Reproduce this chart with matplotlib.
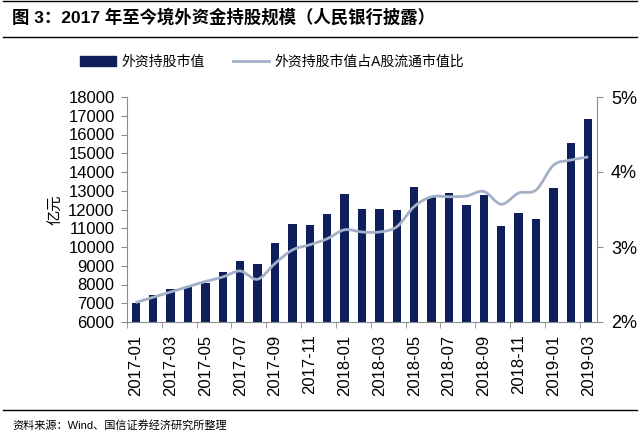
import numpy as np
import matplotlib
matplotlib.use("Agg")
import matplotlib.pyplot as plt
from matplotlib.path import Path
from matplotlib.patches import PathPatch, Patch
from matplotlib.lines import Line2D

plt.rcParams['font.family'] = ['Liberation Sans', 'Noto Sans CJK SC']

months = ['2017-01', '2017-02', '2017-03', '2017-04', '2017-05', '2017-06', '2017-07',
          '2017-08', '2017-09', '2017-10', '2017-11', '2017-12', '2018-01', '2018-02',
          '2018-03', '2018-04', '2018-05', '2018-06', '2018-07', '2018-08', '2018-09',
          '2018-10', '2018-11', '2018-12', '2019-01', '2019-02', '2019-03']
# 外资持股市值 (亿元)
hold_value = [7000, 7440, 7770, 7880, 8100, 8690, 9240, 9090, 10200, 11210, 11180, 11740,
              12820, 12030, 12030, 11980, 13220, 12690, 12860, 12220, 12770, 11140, 11830,
              11510, 13130, 15560, 16810]
# 外资持股市值占A股流通市值比 (%)
hold_ratio = [2.26, 2.33, 2.40, 2.47, 2.54, 2.60, 2.68, 2.57, 2.78, 2.96, 3.03, 3.11,
              3.23, 3.20, 3.20, 3.27, 3.54, 3.67, 3.67, 3.68, 3.74, 3.57, 3.72, 3.76,
              4.09, 4.16, 4.20]

bar_color = '#0e1f5b'
line_color = '#a3b1c6'
axis_color = '#8c8c8c'

fig = plt.figure(figsize=(6.4, 4.33), dpi=100)
ax = fig.add_axes([127/640, 1-322/433, 470/640, 225/433])
ax2 = ax.twinx()

x = np.arange(len(months))
ax.bar(x, hold_value, width=0.48, color=bar_color, zorder=2)
ax.set_xlim(-0.5, len(months) - 0.5)
ax.set_ylim(6000, 18000)
ax.set_yticks(np.arange(6000, 18001, 1000))
ax.set_xticks(x[::2])
ax.set_xticklabels(months[::2], rotation=90)
ax.set_xticks(np.arange(-0.5, len(months) - 1, 2), minor=True)
ax.tick_params(axis='x', which='major', length=0, pad=9, labelsize=12)
ax.tick_params(axis='x', which='minor', length=4, color=axis_color)
ax.tick_params(axis='y', length=4, color=axis_color, pad=5, labelsize=12)
ax.set_ylabel('亿元', fontsize=11, labelpad=4)

# smoothed line (bezier through the data points)
pts = np.column_stack([x, hold_ratio])
verts = [pts[0]]
codes = [Path.MOVETO]
for i in range(len(pts) - 1):
    p0 = pts[max(i - 1, 0)]
    p1 = pts[i]
    p2 = pts[i + 1]
    p3 = pts[min(i + 2, len(pts) - 1)]
    verts += [p1 + (p2 - p0) / 6, p2 - (p3 - p1) / 6, p2]
    codes += [Path.CURVE4] * 3
ax2.add_patch(PathPatch(Path(verts, codes), fill=False, edgecolor=line_color, lw=2, zorder=3))
ax2.set_ylim(2, 5)
ax2.set_yticks([2, 3, 4, 5])
ax2.set_yticklabels(['2%', '3%', '4%', '5%'])
ax2.tick_params(axis='y', length=4, color=axis_color, pad=6, labelsize=13)

for a in (ax, ax2):
    a.spines['top'].set_visible(False)
    for s in ('left', 'right', 'bottom'):
        a.spines[s].set_color(axis_color)
ax.spines['right'].set_visible(False)
ax2.spines['left'].set_visible(False)
ax2.spines['bottom'].set_visible(False)

handles = [Patch(color=bar_color), Line2D([], [], color=line_color, lw=2)]
fig.legend(handles, ['外资持股市值', '外资持股市值占A股流通市值比'], loc='center',
           bbox_to_anchor=(272/640, 1-62/433), ncol=2, frameon=False, fontsize=10,
           handlelength=2.6, handleheight=0.7, columnspacing=2.0, handletextpad=0.4)

fig.text(12/640, 1-17/433, '图 3：2017 年至今境外资金持股规模（人民银行披露）',
         fontsize=12.5, fontweight='bold', va='center', ha='left')
fig.text(12/640, 1-425/433, '资料来源：Wind、国信证券经济研究所整理',
         fontsize=8, va='center', ha='left')
fig.add_artist(Line2D([3/640, 637/640], [1-1/433, 1-1/433], color='black', lw=1))
fig.add_artist(Line2D([3/640, 637/640], [1-37/433, 1-37/433], color='black', lw=1))
fig.add_artist(Line2D([3/640, 637/640], [1-410/433, 1-410/433], color='black', lw=1))

fig.savefig('out.png', dpi=100)
